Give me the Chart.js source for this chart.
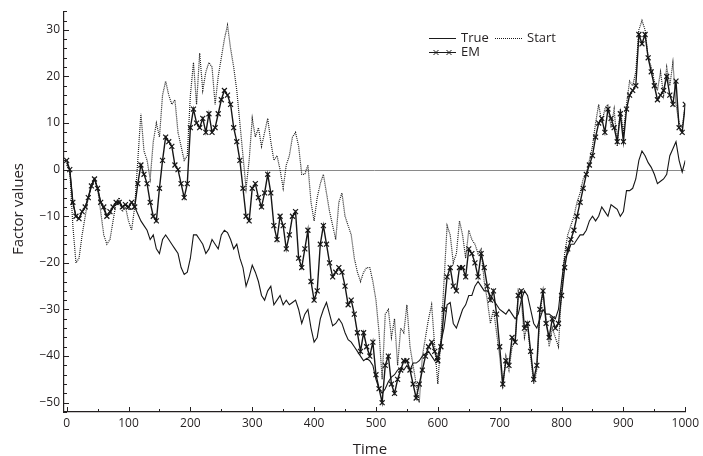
<!DOCTYPE html>
<html>
<head>
<meta charset="utf-8">
<script src="https://cdn.jsdelivr.net/npm/chart.js@4.4.1/dist/chart.umd.min.js"></script>
<style>
html,body{margin:0;padding:0;background:#fff;}
canvas{display:block;}
</style>
</head>
<body>
<canvas id="c" width="703" height="456"></canvas>
<script>
// Time index (every 5 steps)
const times = Array.from({length: 201}, (_, i) => i * 5);

const trueValues = [
  1.5,0,-7,-10,-10.5,-9,-8,-6,-3.5,-2,-4,-7,-8.5,-10,-9.5,-8,-7.5,-7,-8,-7.5,
  -8.5,-8.5,-8,-9.5,-11,-12,-13,-15,-14,-17,-18,-15,-14,-15,-16,-17,-18,-21,-22.5,-22,
  -19,-14,-14,-15,-16,-18,-17,-15,-16,-17,-14,-13,-13.5,-15,-17,-16,-19,-21,-25,-23,
  -20.5,-22,-24,-27,-28,-26,-25,-29,-28,-27,-29,-28,-29,-28.5,-28,-30,-33,-31,-30,-34,
  -37,-36,-32,-30,-28.5,-31,-33.5,-33,-32,-33,-35,-36.5,-37,-38,-39,-40,-41,-40.5,-41,-42,
  -45,-47,-48,-47,-45.5,-44.5,-44,-43,-42.5,-43,-42,-43,-41.5,-41.5,-41,-40,-39.5,-39,-40,-41,
  -40,-37,-34,-29,-28.5,-33,-34,-32,-30,-29,-27,-27,-25,-24,-25,-26,-26,-27,-28,-29,
  -30,-30.5,-31,-30,-31,-32,-31,-28,-26,-27,-30,-33,-34,-32,-30,-31,-31,-31.5,-32,-30,
  -24,-19,-18,-16,-16,-15,-14,-14,-13,-11,-10,-11,-10,-8,-9,-10,-7.5,-8,-8.5,-10,
  -9,-4.5,-4.5,-4,-2,2,4,3,1.5,0.5,-1,-3,-2.5,-2,-1,3,4.5,6,2,-0.5,
  2
];

const emValues = [
  2,0,-7,-10,-10.5,-9,-8,-6,-3.5,-2,-4,-7,-8,-10,-9,-8,-7,-7,-8,-7.5,
  -8,-7,-8,-3,1,-1,-3,-7,-10,-11,-4,2,7,6,5,1,0,-3,-6,-3,
  9,13,10,9,11,8,12,8,9,12,15,17,16,14,9,6,2,-4,-10,-11,
  -4,-3,-6,-8,-5,-1,-5,-12,-15,-10,-12,-17,-14,-10,-9,-19,-21,-17,-13,-24,
  -28,-26,-16,-12,-16,-20,-23,-22,-21,-22,-25,-29,-28,-31,-35,-39,-35,-38,-40,-37,
  -44,-47,-50,-42,-40,-46,-48,-45,-43,-41,-41,-43,-46,-49,-46,-43,-40,-38,-37,-39,
  -41,-38,-30,-23,-21,-25,-26,-21,-21,-23,-17,-18,-20,-23,-18,-21,-25,-28,-26,-31,
  -38,-46,-41,-42,-36,-37,-27,-26,-34,-33,-39,-45,-42,-30,-26,-33,-36,-32,-34,-33,
  -27,-21,-17,-15,-13,-10,-7,-4,-1,1,3,7,10,11,8,13,11,9,6,12,
  6,13,16,17,18,29,27,29,24,21,18,15,16,17,20,16,14,19,9,8,
  14
];

const startValues = [
  1,0,-12,-20,-19,-14,-10,-6,-3,-2,-4,-9,-14,-16,-15,-11,-7,-6,-9,-8,
  -11,-13,-8,2,12,4,2,-2,6,10,7,16,19,16,14,15,8,5,2,3,
  16,23,14,25,17,21,23,22,14,20,24,28,31,26,22,17,10,3,-4,2,
  11,7,9,5,8,11,6,2,3,0,-4,1,3,7,8,5,-1,-1,1,-7,
  -11,-6,-3,-1,-5,-9,-12,-15,-7,-5,-10,-12,-14,-19,-22,-24,-22,-21,-21,-24,
  -28,-35,-45,-31,-30,-36,-32,-42,-34,-35,-29,-38,-42,-46,-50,-40,-36,-32,-29,-38,
  -46,-36,-24,-12,-14,-20,-18,-11,-14,-19,-13,-15,-16,-18,-17,-24,-28,-33,-30,-35,
  -40,-47,-40,-43,-38,-37,-26,-28,-36,-33,-40,-46,-43,-31,-26,-32,-38,-34,-36,-38,
  -26,-18,-14,-12,-10,-7,-5,-2,-1,2,5,10,14,10,13,14,9,13,5,13,
  8,14,19,18,21,30,32,30,24,22,19,17,21,16,22,18,23,14,10,9,
  14
];

const xTickValues = [0,100,200,300,400,500,600,700,800,900,1000];
const yTickValues = [-50,-40,-30,-20,-10,0,10,20,30];
const seriesNames = ['True','Start','EM'];

const INK = '#231f20';
const FONT = '"Open Sans", "DejaVu Sans", sans-serif';

const toPts = arr => arr.map((v, i) => ({x: times[i], y: v}));

const decorPlugin = {
  id: 'decor',
  beforeDatasetsDraw(chart) {
    const ctx = chart.ctx, a = chart.chartArea, ys = chart.scales.y;
    const y0 = Math.round(ys.getPixelForValue(0)) + 0.5;
    ctx.save();
    ctx.strokeStyle = '#8a8a8a';
    ctx.lineWidth = 1;
    ctx.beginPath();
    ctx.moveTo(a.left, y0);
    ctx.lineTo(chart.scales.x.getPixelForValue(1000), y0);
    ctx.stroke();
    ctx.restore();
  },
  afterDraw(chart) {
    const ctx = chart.ctx, a = chart.chartArea;
    const xs = chart.scales.x, ys = chart.scales.y;
    ctx.save();
    ctx.strokeStyle = INK;
    ctx.lineWidth = 1;
    for (let v = -52; v <= 34; v += 2) {
      const py = Math.round(ys.getPixelForValue(v)) + 0.5;
      const len = (v % 10 === 0) ? 5 : 3;
      ctx.beginPath();
      ctx.moveTo(a.left, py);
      ctx.lineTo(a.left + len, py);
      ctx.stroke();
    }
    for (let v = 0; v <= 1000; v += 50) {
      const px = Math.round(xs.getPixelForValue(v)) + 0.5;
      const len = (v % 100 === 0) ? 5 : 3;
      ctx.beginPath();
      ctx.moveTo(px, a.bottom);
      ctx.lineTo(px, a.bottom - len);
      ctx.stroke();
    }
    ctx.fillStyle = INK;
    ctx.font = '15px ' + FONT;
    ctx.textAlign = 'center';
    ctx.textBaseline = 'middle';
    ctx.fillText('Time', 370, 450);
    ctx.save();
    ctx.translate(19, 209);
    ctx.rotate(-Math.PI / 2);
    ctx.fillText('Factor values', 0, 0);
    ctx.restore();

    ctx.font = '13px ' + FONT;
    ctx.textAlign = 'left';
    ctx.textBaseline = 'middle';
    ctx.strokeStyle = '#1a1a1a';
    ctx.beginPath(); ctx.moveTo(429, 38.5); ctx.lineTo(456, 38.5); ctx.stroke();
    ctx.fillText(seriesNames[0], 461, 38);
    ctx.setLineDash([1, 1]);
    ctx.beginPath(); ctx.moveTo(495, 38.5); ctx.lineTo(523, 38.5); ctx.stroke();
    ctx.setLineDash([]);
    ctx.fillText(seriesNames[1], 527, 38);
    ctx.beginPath(); ctx.moveTo(429, 52.5); ctx.lineTo(456, 52.5); ctx.stroke();
    [436, 449].forEach(cx => {
      ctx.beginPath();
      ctx.moveTo(cx - 2.5, 50); ctx.lineTo(cx + 2.5, 55);
      ctx.moveTo(cx + 2.5, 50); ctx.lineTo(cx - 2.5, 55);
      ctx.stroke();
    });
    ctx.fillText(seriesNames[2], 461, 52);
    ctx.restore();
  }
};

new Chart(document.getElementById('c'), {
  type: 'line',
  data: {
    datasets: [
      {
        label: seriesNames[2],
        data: toPts(emValues),
        borderColor: '#161616',
        borderWidth: 1.4,
        pointStyle: 'crossRot',
        pointRadius: 3.5,
        pointBorderWidth: 1.2,
        pointBorderColor: '#161616',
        pointBackgroundColor: '#161616',
        tension: 0,
        order: 0
      },
      {
        label: seriesNames[0],
        data: toPts(trueValues),
        borderColor: '#161616',
        borderWidth: 1.1,
        pointRadius: 0,
        tension: 0,
        order: 1
      },
      {
        label: seriesNames[1],
        data: toPts(startValues),
        borderColor: '#1e1e1e',
        borderWidth: 1.2,
        borderDash: [1, 1],
        pointRadius: 0,
        tension: 0,
        order: 2
      }
    ]
  },
  options: {
    responsive: false,
    animation: false,
    devicePixelRatio: 1,
    layout: { padding: { top: 11, right: 15, left: 0, bottom: 0 } },
    plugins: { legend: { display: false }, tooltip: { enabled: false } },
    scales: {
      x: {
        type: 'linear',
        min: -4.3,
        max: 1000,
        afterBuildTicks: s => { s.ticks = xTickValues.map(v => ({value: v})); },
        afterFit: s => { s.height = 44; },
        grid: { display: false, drawTicks: false },
        border: { display: true, color: INK, width: 1.2 },
        ticks: { color: INK, font: { family: FONT, size: 12 }, padding: 4, maxRotation: 0, autoSkip: false,
                 callback: v => String(v) }
      },
      y: {
        type: 'linear',
        min: -52,
        max: 34,
        afterBuildTicks: s => { s.ticks = yTickValues.map(v => ({value: v})); },
        afterFit: s => { s.width = 64; },
        grid: { display: false, drawTicks: false },
        border: { display: true, color: INK, width: 1.2 },
        ticks: {
          color: INK, font: { family: FONT, size: 12 }, padding: 4,
          callback: v => String(v).replace('-', '\u2212')
        }
      }
    }
  },
  plugins: [decorPlugin]
});
</script>
</body>
</html>
